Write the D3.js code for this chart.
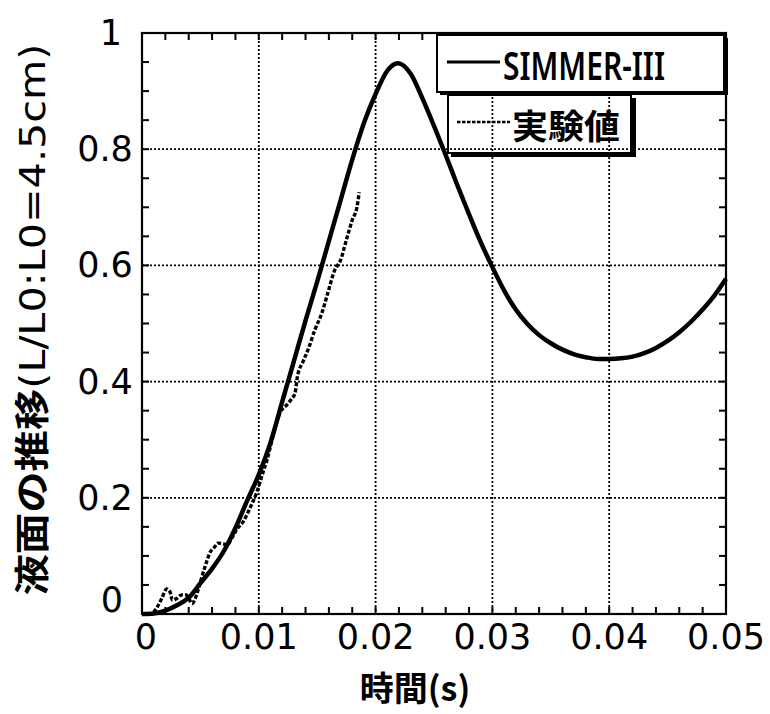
<!DOCTYPE html>
<html><head><meta charset="utf-8">
<script src="https://cdn.jsdelivr.net/npm/d3@7"></script>
<style>body{margin:0;background:#fff}</style>
</head><body>
<svg id="c" width="770" height="714"></svg>
<script>
// ---- data ----
const simTime = [0,0.001,0.002,0.003,0.004,0.005,0.006,0.007,0.008,0.009,0.010,0.011,0.012,0.013,0.014,0.015,0.016,0.017,0.018,0.019,0.020,0.021,0.0219,0.023,0.024,0.025,0.026,0.027,0.028,0.029,0.030,0.031,0.032,0.033,0.034,0.035,0.036,0.037,0.038,0.039,0.040,0.041,0.042,0.043,0.044,0.045,0.046,0.047,0.048,0.049,0.050];
const simLevel = [0,0.001,0.006,0.015,0.028,0.053,0.078,0.108,0.148,0.195,0.240,0.295,0.365,0.435,0.505,0.572,0.642,0.712,0.782,0.845,0.895,0.935,0.948,0.930,0.888,0.840,0.790,0.738,0.688,0.640,0.597,0.557,0.524,0.499,0.480,0.466,0.455,0.447,0.442,0.439,0.439,0.440,0.443,0.449,0.458,0.470,0.485,0.503,0.524,0.548,0.577];
const expTime = [0.0010,0.0013,0.0017,0.0021,0.0024,0.0026,0.0030,0.0034,0.0038,0.0043,0.0045,0.0048,0.0051,0.0055,0.0058,0.0062,0.0065,0.0069,0.0073,0.0077,0.0081,0.0087,0.0093,0.0098,0.0103,0.0107,0.0112,0.0118,0.0124,0.0128,0.0131,0.0133,0.0138,0.0142,0.0148,0.0154,0.0159,0.0165,0.0170,0.0175,0.0180,0.0184,0.0186];
const expLevel = [0.003,0.012,0.027,0.043,0.038,0.024,0.027,0.033,0.033,0.018,0.024,0.041,0.062,0.088,0.105,0.115,0.122,0.121,0.119,0.131,0.145,0.160,0.185,0.208,0.240,0.265,0.305,0.346,0.360,0.370,0.380,0.408,0.435,0.454,0.489,0.518,0.552,0.592,0.609,0.644,0.678,0.700,0.726];
const xTicks = [0,0.01,0.02,0.03,0.04,0.05];
const xTickLabels = ["0","0.01","0.02","0.03","0.04","0.05"];
const yTicks = [0,0.2,0.4,0.6,0.8,1];
const yTickLabels = ["0","0.2","0.4","0.6","0.8","1"];
const seriesNames = ["SIMMER-III","実験値"];
const xTitle = "時間(s)";
const yTitleCJK = "液面の推移";
const yTitleLatin = "(L/L0:L0=4.5cm)";

// ---- layout ----
const L=142, R=726, T=33, B=614;
const svg = d3.select("#c");
const x = d3.scaleLinear().domain([0,0.05]).range([L,R]);
const y = d3.scaleLinear().domain([0,1]).range([B,T]);

// gridlines
const g = svg.append("g");
g.selectAll(".gx").data(xTicks.slice(1,-1)).join("line")
  .attr("x1",d=>x(d)).attr("x2",d=>x(d)).attr("y1",T).attr("y2",B)
  .attr("stroke","#000").attr("stroke-width",1.8).attr("stroke-dasharray","2,2");
g.selectAll(".gy").data(yTicks.slice(1,-1)).join("line")
  .attr("y1",d=>y(d)).attr("y2",d=>y(d)).attr("x1",L).attr("x2",R)
  .attr("stroke","#000").attr("stroke-width",1.8).attr("stroke-dasharray","2,2");

// minor ticks (inside, all sides)
const xMinor = d3.range(0,0.0501,0.002);
const yMinor = d3.range(0,1.001,0.05);
const tk = svg.append("g").attr("stroke","#000").attr("stroke-width",2);
tk.selectAll(".xb").data(xMinor).join("line").attr("x1",d=>x(d)).attr("x2",d=>x(d)).attr("y1",B).attr("y2",B-7);
tk.selectAll(".xt").data(xMinor).join("line").attr("x1",d=>x(d)).attr("x2",d=>x(d)).attr("y1",T).attr("y2",T+7);
tk.selectAll(".yl").data(yMinor).join("line").attr("y1",d=>y(d)).attr("y2",d=>y(d)).attr("x1",L).attr("x2",L+7);
tk.selectAll(".yr").data(yMinor).join("line").attr("y1",d=>y(d)).attr("y2",d=>y(d)).attr("x1",R).attr("x2",R-7);

// data lines
const simData = simTime.map((t,i)=>[t,simLevel[i]]);
const expData = expTime.map((t,i)=>[t,expLevel[i]]);
const line = d3.line().x(d=>x(d[0])).y(d=>y(d[1])).curve(d3.curveMonotoneX);
svg.append("path").attr("d",line(expData)).attr("fill","none").attr("stroke","#000")
  .attr("stroke-width",3.4).attr("stroke-dasharray","4,2");
svg.append("path").attr("d",line(simData)).attr("fill","none").attr("stroke","#000")
  .attr("stroke-width",4.5).attr("stroke-linejoin","round");

// frame
svg.append("rect").attr("x",L).attr("y",T).attr("width",R-L).attr("height",B-T)
  .attr("fill","none").attr("stroke","#000").attr("stroke-width",2.2);

// tick labels
const font = "DejaVu Sans, sans-serif";
svg.append("g").selectAll("text").data(xTicks).join("text")
  .attr("x",(d,i)=>x(d)+(i===0?4:0)).attr("y",B+35).attr("text-anchor","middle")
  .attr("font-family",font).attr("font-size",35).text((d,i)=>xTickLabels[i]);
svg.append("g").selectAll("text").data(yTicks).join("text")
  .attr("x",(d,i)=>i===0?112:(i===5?111:105)).attr("y",d=>y(d)+(d===0?-2:12)).attr("text-anchor","middle")
  .attr("font-family",font).attr("font-size",35).text((d,i)=>yTickLabels[i]);

// axis titles
svg.append("text").attr("x",415).attr("y",701).attr("text-anchor","middle")
  .attr("font-family","Noto Sans CJK JP, sans-serif").attr("font-weight","bold").attr("font-size",34).text(xTitle);
const yt = svg.append("text").attr("transform",`translate(45,${(T+B)/2 - 4}) rotate(-90)`)
  .attr("text-anchor","middle").attr("font-size",35).attr("font-family","Noto Sans CJK JP, sans-serif")
  .attr("textLength",552).attr("lengthAdjust","spacingAndGlyphs");
yt.append("tspan").attr("font-weight","bold").text(yTitleCJK);
yt.append("tspan").attr("font-family","DejaVu Sans, sans-serif").attr("font-weight","normal").text(yTitleLatin);

// legend
const lg = svg.append("g");
// box 1
lg.append("rect").attr("x",440).attr("y",38).attr("width",288).attr("height",57).attr("fill","#000");
lg.append("rect").attr("x",437).attr("y",35).attr("width",287).attr("height",57).attr("fill","#fff").attr("stroke","#000").attr("stroke-width",2);
lg.append("line").attr("x1",447).attr("x2",500).attr("y1",62).attr("y2",62).attr("stroke","#000").attr("stroke-width",3);
lg.append("text").attr("x",503).attr("y",80).attr("font-family","Noto Sans, sans-serif").attr("font-weight","600").attr("font-size",40)
  .attr("textLength",162).attr("lengthAdjust","spacingAndGlyphs").text(seriesNames[0]);
// box 2 (transparent)
lg.append("path").attr("d","M451,155 H634 V98").attr("fill","none").attr("stroke","#000").attr("stroke-width",4);
lg.append("rect").attr("x",448).attr("y",95).attr("width",183).attr("height",58).attr("fill","none").attr("stroke","#000").attr("stroke-width",2);
lg.append("line").attr("x1",457).attr("x2",510).attr("y1",122).attr("y2",122).attr("stroke","#000").attr("stroke-width",2.6).attr("stroke-dasharray","3.5,1.5");
lg.append("text").attr("x",512).attr("y",139).attr("font-family","Noto Sans CJK JP, sans-serif").attr("font-weight","bold").attr("font-size",34)
  .attr("textLength",108).attr("lengthAdjust","spacingAndGlyphs").text(seriesNames[1]);
</script>
</body></html>
